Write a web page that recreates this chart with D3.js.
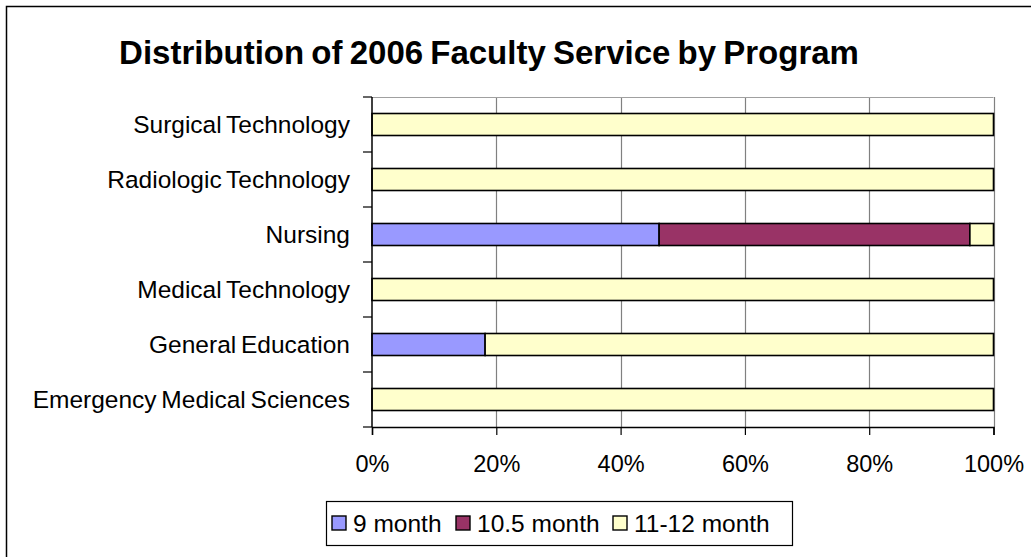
<!DOCTYPE html>
<html>
<head>
<meta charset="utf-8">
<script src="https://cdnjs.cloudflare.com/ajax/libs/d3/7.8.5/d3.min.js"></script>
<style>
  html, body { margin: 0; padding: 0; background: #fff; }
  svg { display: block; font-family: "Liberation Sans", Arial, sans-serif; }
</style>
</head>
<body>
<svg id="chart" width="1031" height="557"></svg>
<script>
// Programs, listed bottom to top as on the category axis
const programs = [
  "Emergency Medical Sciences",
  "General Education",
  "Medical Technology",
  "Nursing",
  "Radiologic Technology",
  "Surgical Technology"
];

// Share of faculty on each service contract length
const nineMonth     = [0, 0.182, 0, 0.462, 0, 0];
const tenHalfMonth  = [0, 0,     0, 0.500, 0, 0];
const elevenTwelve  = [1, 0.818, 1, 0.038, 1, 1];

const seriesNames  = ["9 month", "10.5 month", "11-12 month"];
const seriesColors = ["#9999FF", "#993366", "#FFFFCC"];
const xTicks = [0, 0.2, 0.4, 0.6, 0.8, 1];

const rows = programs.map((p, i) => ({
  program: p,
  "9 month": nineMonth[i],
  "10.5 month": tenHalfMonth[i],
  "11-12 month": elevenTwelve[i]
}));

const svg = d3.select("#chart");

// Chart frame
svg.append("rect")
  .attr("x", 6.5).attr("y", 6.5)
  .attr("width", 1040).attr("height", 570)
  .attr("fill", "#fff").attr("stroke", "#000").attr("stroke-width", 1.5);

// Title
svg.append("text")
  .attr("x", 489).attr("y", 64)
  .attr("text-anchor", "middle")
  .attr("font-size", 33).attr("font-weight", "bold")
  .attr("word-spacing", -2)
  .text("Distribution of 2006 Faculty Service by Program");

const plot = { left: 372, right: 993.5, top: 97, bottom: 427 };

const x = d3.scaleLinear().domain([0, 1]).range([plot.left, plot.right]);
const y = d3.scaleBand()
  .domain(programs.slice().reverse())
  .range([plot.top, plot.bottom])
  .paddingInner(0.6).paddingOuter(0.3);

// Vertical gridlines and plot area top edge
svg.append("g")
  .selectAll("line")
  .data(xTicks.slice(1))
  .join("line")
  .attr("x1", d => Math.round(x(d)) + 0.5).attr("x2", d => Math.round(x(d)) + 0.5)
  .attr("y1", plot.top).attr("y2", plot.bottom)
  .attr("stroke", "#808080").attr("stroke-width", 1.2);

svg.append("line")
  .attr("x1", plot.left).attr("x2", plot.right)
  .attr("y1", plot.top + 0.5).attr("y2", plot.top + 0.5)
  .attr("stroke", "#a0a0a0").attr("stroke-width", 1.2);

// Stacked bars
const stack = d3.stack().keys(seriesNames);
const layers = stack(rows);

svg.append("g")
  .selectAll("g")
  .data(layers)
  .join("g")
  .attr("fill", (d, i) => seriesColors[i])
  .selectAll("rect")
  .data(d => d.filter(v => v[1] - v[0] > 0))
  .join("rect")
  .attr("x", d => x(d[0]))
  .attr("y", d => y(d.data.program))
  .attr("width", d => x(d[1]) - x(d[0]))
  .attr("height", y.bandwidth())
  .attr("stroke", "#000").attr("stroke-width", 1.6);

// Category axis: line, ticks at band edges, labels
const yAxis = svg.append("g");
yAxis.append("line")
  .attr("x1", plot.left).attr("x2", plot.left)
  .attr("y1", plot.top).attr("y2", plot.bottom)
  .attr("stroke", "#000").attr("stroke-width", 1.5);

const edgeValues = d3.range(programs.length + 1)
  .map(i => plot.top + i * (plot.bottom - plot.top) / programs.length);
yAxis.selectAll("line.tick")
  .data(edgeValues)
  .join("line")
  .attr("class", "tick")
  .attr("x1", plot.left - 9).attr("x2", plot.left)
  .attr("y1", d => d).attr("y2", d => d)
  .attr("stroke", "#000").attr("stroke-width", 1.2);

yAxis.selectAll("text")
  .data(programs)
  .join("text")
  .attr("x", 350)
  .attr("y", d => y(d) + y.bandwidth() / 2)
  .attr("dy", "0.36em")
  .attr("text-anchor", "end")
  .attr("font-size", 24.5)
  .attr("word-spacing", -2)
  .text(d => d);

// Value axis
const xAxis = d3.axisBottom(x)
  .tickValues(xTicks)
  .tickFormat(d3.format(".0%"))
  .tickSize(8)
  .tickPadding(20);

const xg = svg.append("g")
  .attr("transform", `translate(0,${plot.bottom})`)
  .call(xAxis);
xg.select(".domain").attr("stroke", "#000").attr("stroke-width", 1.5);
xg.selectAll(".tick line").attr("stroke", "#000").attr("stroke-width", 1.2);
xg.selectAll(".tick text")
  .attr("font-size", 23.5)
  .attr("font-family", "Liberation Sans, Arial, sans-serif")
  .attr("fill", "#000");

// Legend
const legend = svg.append("g");
legend.append("rect")
  .attr("x", 326.5).attr("y", 501.5)
  .attr("width", 466).attr("height", 44)
  .attr("fill", "#fff").attr("stroke", "#000").attr("stroke-width", 1.2);

const legendX = [332, 456, 613];
const items = legend.selectAll("g")
  .data(seriesNames)
  .join("g")
  .attr("transform", (d, i) => `translate(${legendX[i]},523)`);
items.append("rect")
  .attr("x", 0).attr("y", -7)
  .attr("width", 14).attr("height", 14)
  .attr("fill", (d, i) => seriesColors[i])
  .attr("stroke", "#000").attr("stroke-width", 1.4);
items.append("text")
  .attr("x", 21).attr("y", 0).attr("dy", "0.36em")
  .attr("font-size", 24.5)
  .text(d => d);
</script>
</body>
</html>
